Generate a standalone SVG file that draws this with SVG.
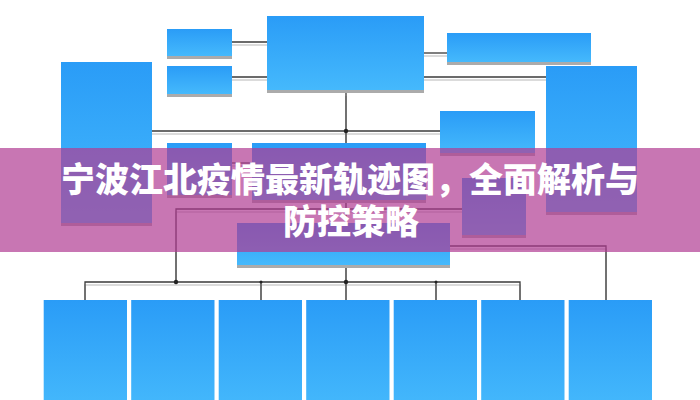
<svg xmlns="http://www.w3.org/2000/svg" xmlns:xlink="http://www.w3.org/1999/xlink" width="700" height="400" viewBox="0 0 700 400">
<defs>
<linearGradient id="blue" x1="0" y1="0" x2="0" y2="1">
<stop offset="0" stop-color="#2a9cf7"/>
<stop offset="1" stop-color="#45b9fc"/>
</linearGradient>
<style>
.box{fill:url(#blue);}
.shd{fill:#ababab;}
.ln{fill:none;stroke:#3a3a3a;stroke-width:1.3;}
.lnsh{fill:none;stroke:#cfcfcf;stroke-width:1.5;}
.dot{fill:#222;}
.title{font-family:"Noto Sans CJK SC","Noto Sans",sans-serif;font-weight:900;font-size:34px;fill:#ffffff;text-anchor:middle;}
</style>
<g id="conpaths">
<path d="M232,42H267"/>
<path d="M232,77H267"/>
<path d="M424,53H447"/>
<path d="M424,77H546"/>
<path d="M346,93V223"/>
<path d="M152,131H440"/>
<path d="M232,163H252"/>
<path d="M462,209H176V282"/>
<path d="M450,246H606V300"/>
<path d="M346,265V300"/>
<path d="M85,300V282H520V300"/>
<path d="M261,282V300"/>
<path d="M436,282V300"/>
</g>
</defs>
<rect width="700" height="400" fill="#ffffff"/>
<g id="connectors">
<use xlink:href="#conpaths" class="lnsh" transform="translate(0,3)"/>
<use xlink:href="#conpaths" class="ln"/>
<circle class="dot" cx="346" cy="131" r="2.2"/>
<circle class="dot" cx="176" cy="282" r="2.2"/>
<circle class="dot" cx="346" cy="282" r="2.2"/>
<circle class="dot" cx="261" cy="282" r="1.5"/>
<circle class="dot" cx="436" cy="282" r="1.5"/>
</g>
<g id="n-top"><rect class="shd" x="267" y="19" width="157" height="74"/><rect class="box" x="267" y="16" width="157" height="74"/></g>
<g id="n-s1"><rect class="shd" x="167" y="32" width="65" height="27"/><rect class="box" x="167" y="29" width="65" height="27"/></g>
<g id="n-s2"><rect class="shd" x="167" y="69" width="65" height="28"/><rect class="box" x="167" y="66" width="65" height="28"/></g>
<g id="n-rt"><rect class="shd" x="447" y="36" width="144" height="29"/><rect class="box" x="447" y="33" width="144" height="29"/></g>
<g id="n-left"><rect class="shd" x="61" y="65" width="91" height="161"/><rect class="box" x="61" y="62" width="91" height="161"/></g>
<g id="n-rbig"><rect class="shd" x="546" y="69" width="91" height="146"/><rect class="box" x="546" y="66" width="91" height="146"/></g>
<g id="n-midr"><rect class="shd" x="440" y="114" width="95" height="42"/><rect class="box" x="440" y="111" width="95" height="42"/></g>
<g id="n-ul"><rect class="shd" x="167" y="146" width="65" height="52"/><rect class="box" x="167" y="143" width="65" height="52"/></g>
<g id="n-uc"><rect class="shd" x="252" y="146" width="174" height="57"/><rect class="box" x="252" y="143" width="174" height="57"/></g>
<g id="n-r2"><rect class="shd" x="462" y="181" width="64" height="57"/><rect class="box" x="462" y="178" width="64" height="57"/></g>
<g id="n-lowc"><rect class="shd" x="237" y="226" width="213" height="42"/><rect class="box" x="237" y="223" width="213" height="42"/></g>
<g id="n-b1"><rect class="box" x="43.7" y="300" width="83.3" height="110"/></g>
<g id="n-b2"><rect class="box" x="131.2" y="300" width="83.3" height="110"/></g>
<g id="n-b3"><rect class="box" x="218.7" y="300" width="83.3" height="110"/></g>
<g id="n-b4"><rect class="box" x="306.2" y="300" width="83.3" height="110"/></g>
<g id="n-b5"><rect class="box" x="393.7" y="300" width="83.3" height="110"/></g>
<g id="n-b6"><rect class="box" x="481.2" y="300" width="83.3" height="110"/></g>
<g id="n-b7"><rect class="box" x="568.7" y="300" width="83.3" height="110"/></g>
<g id="banner">
<rect x="0" y="148" width="700" height="104" fill="rgb(176,60,147)" fill-opacity="0.7"/>
<text class="title" x="350" y="192">宁波江北疫情最新轨迹图，全面解析与</text>
<text class="title" x="351" y="234">防控策略</text>
</g>
</svg>
